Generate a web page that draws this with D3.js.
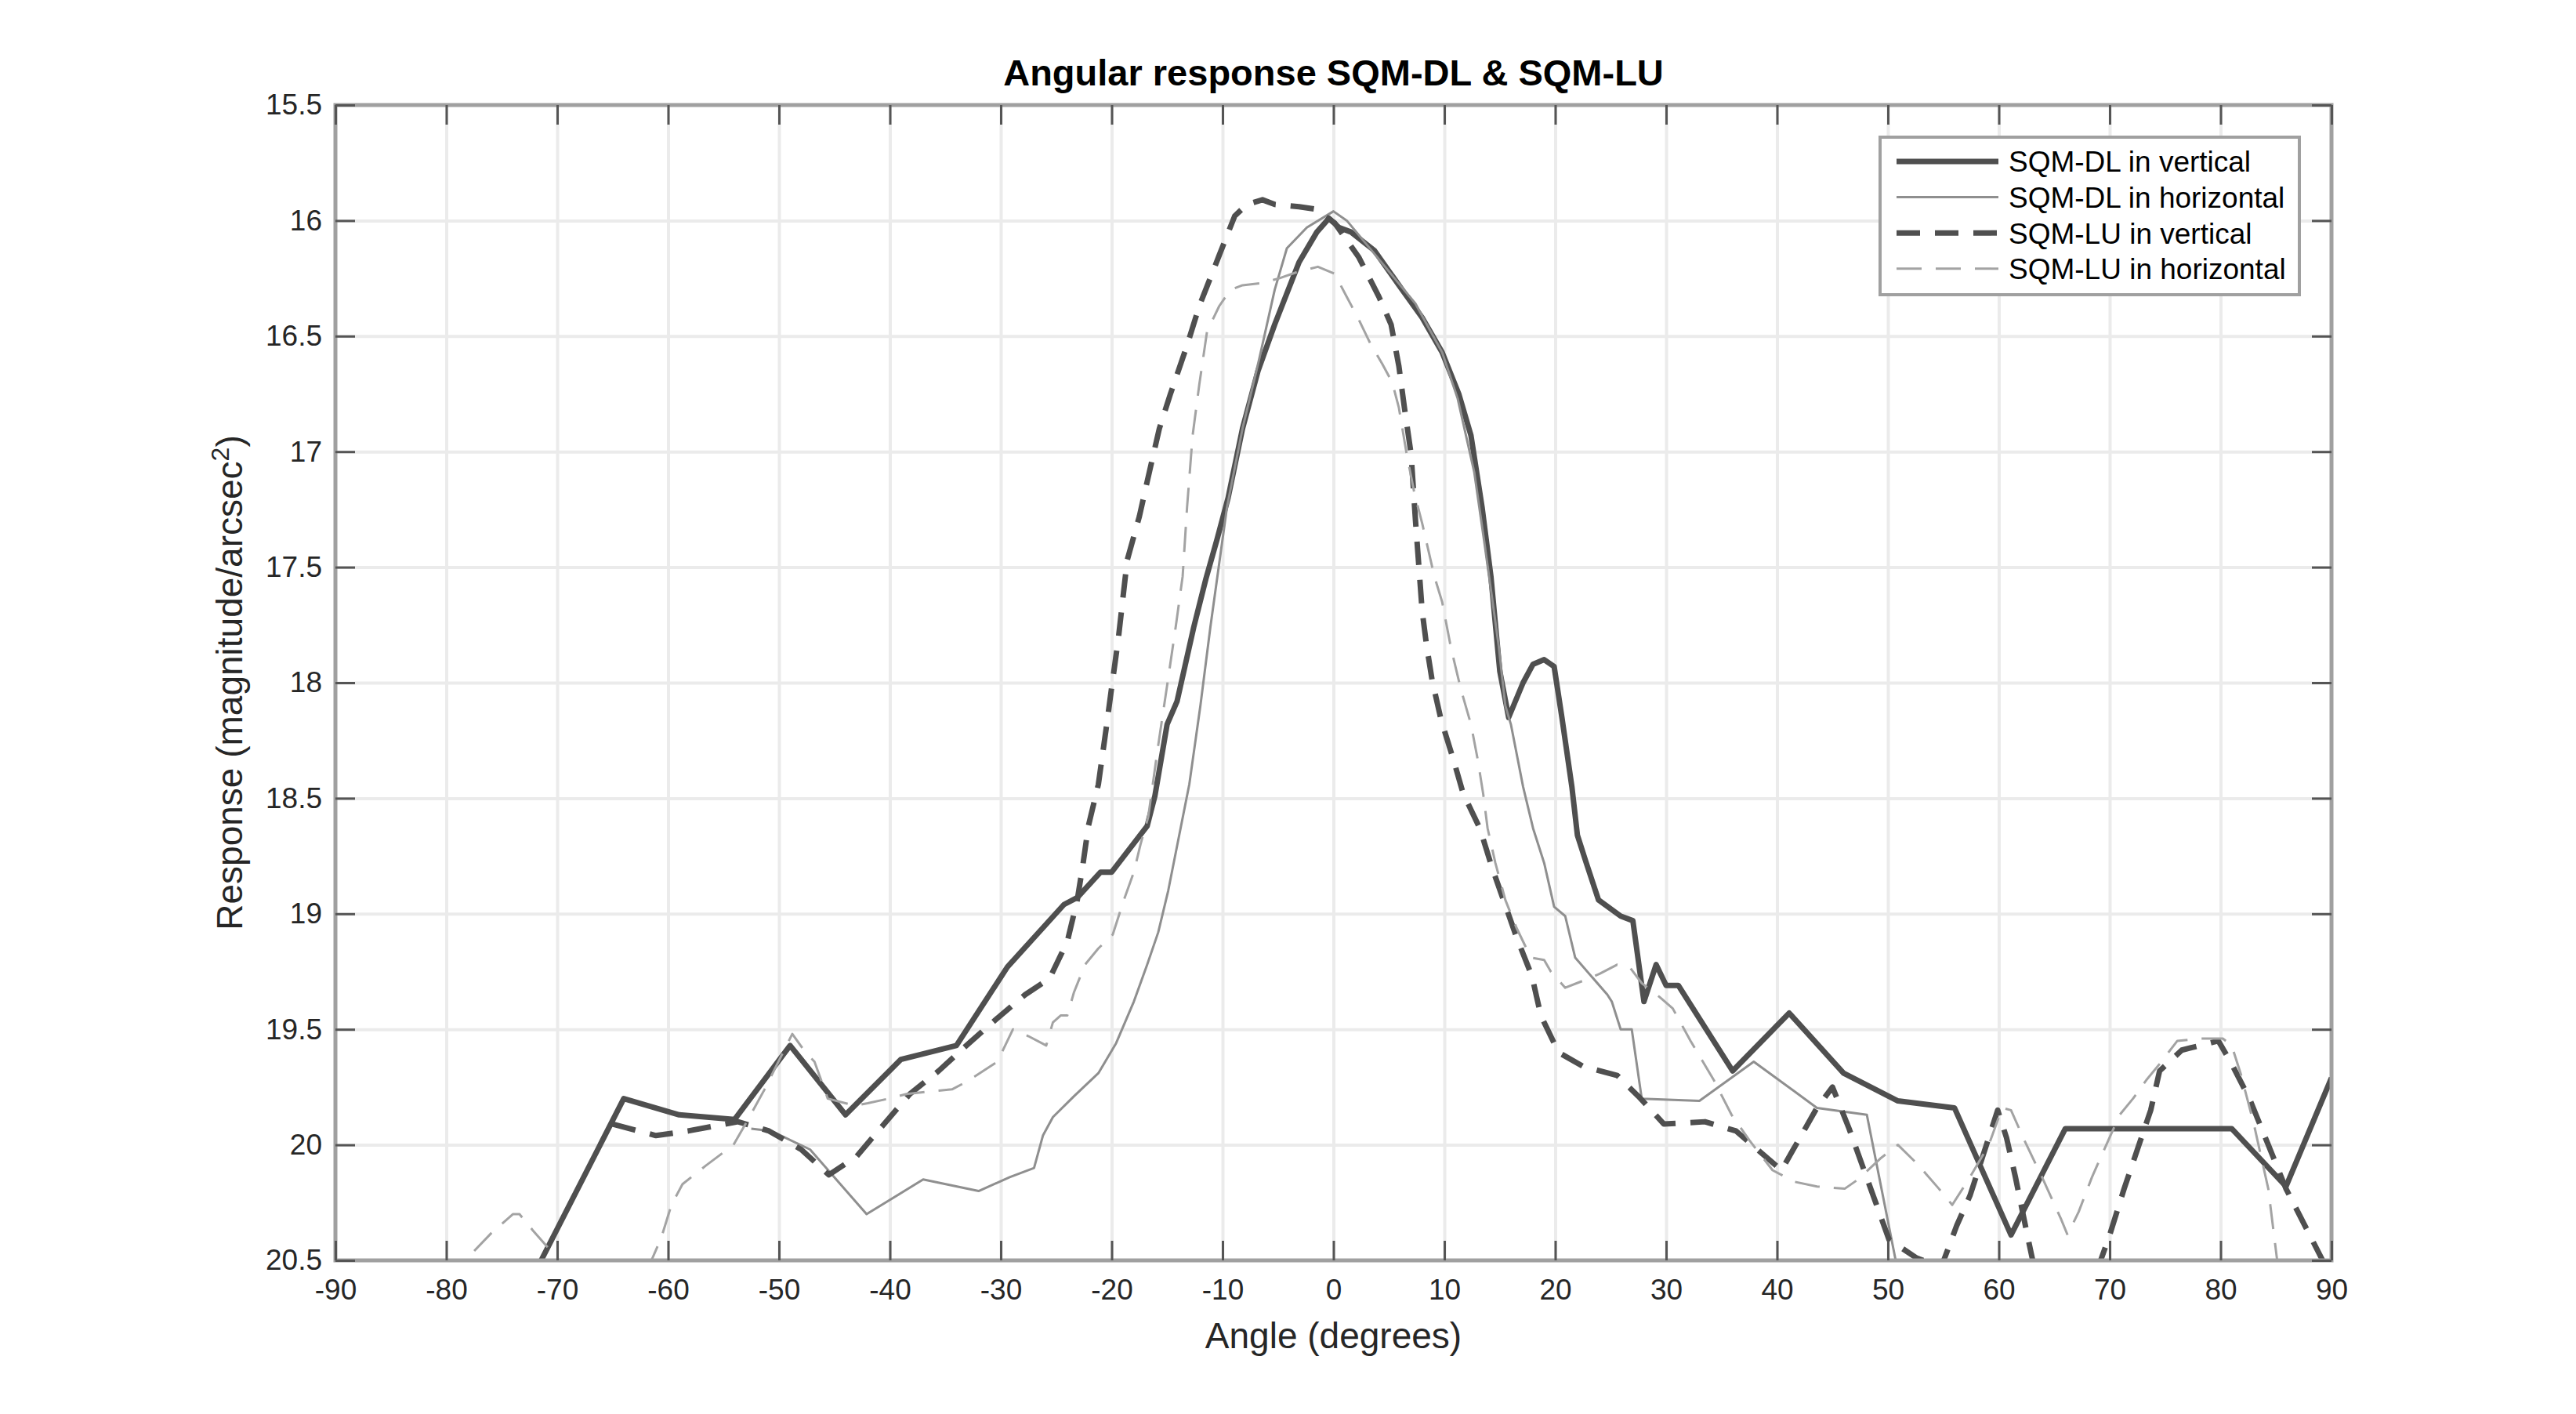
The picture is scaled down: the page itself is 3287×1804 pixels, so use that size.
<!DOCTYPE html>
<html>
<head>
<meta charset="utf-8">
<script src="https://cdn.jsdelivr.net/npm/d3@7"></script>
<style>
  body { margin: 0; background: #fff; }
  text { font-family: "Liberation Sans", Arial, Helvetica, sans-serif; }
</style>
</head>
<body>
<script>
// Valores: [angulo (grados), respuesta (mag/arcsec^2)]
const dlVertical = [[-74,20.74],[-64,19.8],[-59,19.87],[-54,19.89],[-49,19.57],[-44,19.87],[-39,19.63],[-34,19.57],[-29.4,19.23],[-24.3,18.96],[-23.1,18.93],[-21,18.82],[-20,18.82],[-16.8,18.62],[-16.1,18.49],[-15,18.18],[-14.1,18.08],[-12.6,17.76],[-11.5,17.55],[-10.5,17.38],[-9.5,17.2],[-8.2,16.9],[-6.8,16.65],[-5.3,16.45],[-3.1,16.18],[-1.5,16.05],[-0.4,15.99],[0.5,16.03],[1.6,16.05],[3.7,16.13],[6.2,16.3],[8,16.42],[9.8,16.57],[11.3,16.75],[12.4,16.93],[13.4,17.24],[14.2,17.54],[15,17.95],[15.8,18.15],[17.1,18.0],[18,17.92],[19,17.9],[19.9,17.93],[20.6,18.15],[21.5,18.45],[22,18.66],[22.8,18.78],[23.9,18.94],[25.9,19.01],[27,19.03],[28,19.38],[29.1,19.22],[30,19.31],[31.1,19.31],[36,19.68],[41.1,19.43],[46,19.69],[50.9,19.81],[56,19.84],[61.1,20.39],[66,19.93],[81,19.93],[85.9,20.18],[90,19.71]];

const dlHorizontal = [[-52.5,19.93],[-50.7,19.94],[-47.2,20.02],[-42.1,20.3],[-37,20.15],[-32,20.2],[-29.2,20.14],[-27,20.1],[-26.2,19.96],[-25.3,19.88],[-23.4,19.79],[-21.2,19.69],[-19.6,19.56],[-18,19.38],[-16.8,19.22],[-15.8,19.08],[-14.9,18.9],[-13,18.44],[-12,18.1],[-11.1,17.76],[-9.6,17.24],[-8.2,16.9],[-6.7,16.6],[-5.3,16.3],[-4.2,16.12],[-2.4,16.03],[0,15.96],[1.2,16.0],[3.8,16.15],[7.4,16.36],[9.8,16.57],[11.2,16.77],[12.7,17.09],[13.6,17.39],[14.9,17.84],[15.5,18.1],[16,18.18],[17.1,18.45],[18,18.63],[19,18.78],[19.9,18.97],[20.9,19.01],[21.8,19.19],[24.7,19.35],[25.1,19.38],[25.9,19.5],[26.9,19.5],[27.8,19.8],[33,19.81],[37.9,19.64],[43.6,19.84],[48.1,19.87],[50.7,20.5],[51.2,20.62]];

const luVertical = [[-65,19.91],[-61.1,19.96],[-58.2,19.94],[-53.7,19.9],[-50.9,19.94],[-48,20.02],[-45.5,20.13],[-43,20.05],[-40.7,19.92],[-38.2,19.78],[-35.6,19.68],[-33.1,19.57],[-30.5,19.46],[-27.8,19.35],[-25.6,19.28],[-24,19.12],[-23.1,18.94],[-22.6,18.79],[-22.1,18.62],[-21.2,18.44],[-20.5,18.2],[-20,18.02],[-19.4,17.81],[-18.6,17.47],[-17.5,17.28],[-16.8,17.13],[-15.7,16.9],[-14.7,16.75],[-13.2,16.54],[-12.1,16.37],[-10.3,16.15],[-8.9,15.98],[-7.8,15.93],[-6.4,15.91],[-5.3,15.93],[-3.1,15.94],[-1.7,15.95],[0.1,16.01],[2.3,16.16],[4.1,16.33],[5.2,16.45],[5.9,16.63],[6.4,16.81],[7,17.01],[7.4,17.3],[8,17.69],[8.4,17.84],[8.9,17.99],[9.7,18.16],[10.8,18.33],[11.7,18.48],[13.2,18.63],[14.3,18.8],[15.4,18.95],[16.5,19.1],[17.9,19.27],[18.7,19.44],[20.3,19.6],[22.5,19.66],[25.6,19.7],[27.5,19.79],[29.8,19.91],[33.5,19.9],[36.3,19.94],[40.4,20.11],[43.6,19.84],[45,19.75],[46.5,19.93],[48.9,20.25],[50.1,20.41],[52.6,20.49],[54.8,20.53],[56.2,20.35],[57.4,20.22],[59.9,19.85],[60.7,19.97],[61.5,20.14],[62.7,20.42],[63.5,20.6],[68.3,20.62],[70,20.39],[71.3,20.19],[72.5,20.02],[73.7,19.85],[74.5,19.68],[76.5,19.59],[79.8,19.55],[81,19.65],[82.6,19.8],[84.3,20],[85.9,20.19],[87.5,20.34],[89.2,20.5],[90,20.58]];

const luHorizontal = [[-82,20.72],[-78.3,20.5],[-75.9,20.38],[-74,20.3],[-73.4,20.3],[-72.2,20.37],[-70,20.49],[-67.5,20.62],[-63.5,20.65],[-61.5,20.5],[-60.6,20.4],[-59.7,20.26],[-58.7,20.17],[-56.6,20.09],[-54.1,20],[-52.9,19.9],[-51.3,19.76],[-48.8,19.52],[-47.6,19.6],[-46.8,19.64],[-45.6,19.8],[-43.2,19.83],[-42,19.82],[-40.1,19.8],[-38.5,19.78],[-36.6,19.77],[-34.4,19.76],[-33.2,19.73],[-31.9,19.69],[-30.3,19.64],[-29.4,19.55],[-28.9,19.5],[-27.5,19.53],[-25.9,19.57],[-25.3,19.47],[-24.6,19.44],[-24,19.44],[-23.4,19.34],[-22.4,19.22],[-21.2,19.15],[-19.9,19.09],[-18.9,18.94],[-18,18.82],[-17.4,18.7],[-16.7,18.58],[-15.8,18.27],[-14.9,17.98],[-14.2,17.75],[-13.6,17.54],[-13.2,17.24],[-12.7,16.93],[-12.1,16.71],[-11.4,16.48],[-10.3,16.37],[-9.3,16.3],[-8.2,16.28],[-6.4,16.27],[-4.9,16.25],[-3.1,16.22],[-1.4,16.2],[0.1,16.23],[1.2,16.33],[2.3,16.43],[3.3,16.53],[4.4,16.62],[5.3,16.7],[5.9,16.81],[6.6,17.01],[7.3,17.18],[8,17.31],[9.1,17.54],[9.8,17.65],[10.6,17.85],[11.5,18.03],[12.4,18.18],[13,18.33],[13.5,18.48],[13.9,18.63],[14.6,18.78],[15.5,18.94],[16.5,19.06],[17.8,19.19],[19,19.2],[19.6,19.25],[20.9,19.32],[22.5,19.29],[24,19.26],[25.6,19.22],[26.7,19.23],[27.8,19.3],[29.4,19.36],[30.6,19.41],[32.2,19.55],[34.3,19.72],[35.9,19.87],[37.5,19.98],[39.6,20.11],[41.6,20.16],[43.6,20.18],[46.1,20.19],[47.3,20.15],[49.3,20.06],[50.9,20.0],[52.6,20.08],[54.6,20.19],[55.8,20.26],[57.4,20.14],[59.1,20.0],[60.3,19.84],[61.1,19.85],[62.3,19.98],[63.9,20.14],[65.6,20.32],[66.2,20.39],[67.2,20.29],[68.4,20.14],[69.6,20.01],[70.9,19.87],[72.1,19.8],[73.3,19.72],[74.5,19.65],[76.1,19.55],[78.2,19.54],[80.2,19.54],[81,19.57],[81.8,19.69],[83,19.91],[84.3,20.19],[85.1,20.5],[86,20.75]];

const xTicks = [-90,-80,-70,-60,-50,-40,-30,-20,-10,0,10,20,30,40,50,60,70,80,90];
const yTicks = [15.5,16,16.5,17,17.5,18,18.5,19,19.5,20,20.5];
const seriesNames = ["SQM-DL in vertical", "SQM-DL in horizontal", "SQM-LU in vertical", "SQM-LU in horizontal"];

// Constantes de la figura
const WIDTH = 3287;
const HEIGHT = 1804;
const MARGIN = { top: 134, left: 428, right: 312, bottom: 196 };
const WIDTHVIS = WIDTH - MARGIN.left - MARGIN.right;
const HEIGHTVIS = HEIGHT - MARGIN.top - MARGIN.bottom;

// Estilo de cada serie (mismo orden que seriesNames)
const estilos = [
  { datos: dlVertical, color: "#4f4f4f", ancho: 7, dash: null },
  { datos: dlHorizontal, color: "#8f8f8f", ancho: 3, dash: null },
  { datos: luVertical, color: "#4f4f4f", ancho: 7, dash: "30,19" },
  { datos: luHorizontal, color: "#a3a3a3", ancho: 3, dash: "32,18" },
];

const svg = d3.select("body")
  .append("svg")
  .attr("width", WIDTH)
  .attr("height", HEIGHT);

svg.append("rect").attr("width", WIDTH).attr("height", HEIGHT).attr("fill", "#fff");

svg.append("clipPath")
  .attr("id", "clip")
  .append("rect")
  .attr("width", WIDTHVIS)
  .attr("height", HEIGHTVIS);

const escalaX = d3.scaleLinear().domain([-90, 90]).range([0, WIDTHVIS]);
const escalaY = d3.scaleLinear().domain([15.5, 20.5]).range([0, HEIGHTVIS]);

const contenedor = svg.append("g")
  .attr("transform", `translate(${MARGIN.left}, ${MARGIN.top})`);

// Grilla
const grilla = contenedor.append("g").attr("class", "grilla");
grilla.append("g")
  .call(d3.axisBottom(escalaX).tickValues(xTicks.slice(1, -1)).tickSize(HEIGHTVIS).tickFormat(""))
  .call(g => g.select(".domain").remove());
grilla.append("g")
  .call(d3.axisRight(escalaY).tickValues(yTicks.slice(1, -1)).tickSize(WIDTHVIS).tickFormat(""))
  .call(g => g.select(".domain").remove());
grilla.selectAll("line").attr("stroke", "#ebebeb").attr("stroke-width", 4);

// Lineas de datos
const linea = d3.line()
  .x(d => escalaX(d[0]))
  .y(d => escalaY(d[1]));

const contenedorVis = contenedor.append("g").attr("clip-path", "url(#clip)");
contenedorVis.selectAll("path")
  .data(estilos)
  .join("path")
  .attr("d", d => linea(d.datos))
  .attr("fill", "none")
  .attr("stroke", d => d.color)
  .attr("stroke-width", d => d.ancho)
  .attr("stroke-dasharray", d => d.dash)
  .attr("stroke-linejoin", "round");

// Marco de los ejes
contenedor.append("rect")
  .attr("width", WIDTHVIS)
  .attr("height", HEIGHTVIS)
  .attr("fill", "none")
  .attr("stroke", "#a0a0a0")
  .attr("stroke-width", 5);

// Ejes con marcas hacia adentro en los cuatro lados (guion simple como signo menos)
const formato = d => String(d);
const ejeX = d3.axisBottom(escalaX).tickValues(xTicks).tickSizeInner(-25).tickSizeOuter(0).tickPadding(24)
  .tickFormat(formato);
const ejeY = d3.axisLeft(escalaY).tickValues(yTicks).tickSizeInner(-25).tickSizeOuter(0).tickPadding(17)
  .tickFormat(formato);

const contenedorEjeX = contenedor.append("g")
  .attr("transform", `translate(0, ${HEIGHTVIS})`)
  .call(ejeX);
const contenedorEjeY = contenedor.append("g").call(ejeY);
const ejeArriba = contenedor.append("g")
  .call(d3.axisTop(escalaX).tickValues(xTicks).tickSizeInner(-25).tickSizeOuter(0).tickFormat(""));
const ejeDerecha = contenedor.append("g")
  .attr("transform", `translate(${WIDTHVIS}, 0)`)
  .call(d3.axisRight(escalaY).tickValues(yTicks).tickSizeInner(-25).tickSizeOuter(0).tickFormat(""));

[contenedorEjeX, contenedorEjeY, ejeArriba, ejeDerecha].forEach(g => {
  g.select(".domain").remove();
  g.selectAll(".tick line").attr("stroke", "#555").attr("stroke-width", 3);
  g.selectAll(".tick text")
    .attr("font-family", "'Liberation Sans', Arial, sans-serif")
    .attr("font-size", 37)
    .attr("fill", "#262626");
});

// Titulo y etiquetas
svg.append("text")
  .attr("x", MARGIN.left + WIDTHVIS / 2)
  .attr("y", 109)
  .attr("text-anchor", "middle")
  .attr("font-size", 47)
  .attr("font-weight", "bold")
  .attr("fill", "#000")
  .text("Angular response SQM-DL & SQM-LU");

svg.append("text")
  .attr("x", MARGIN.left + WIDTHVIS / 2)
  .attr("y", 1720)
  .attr("text-anchor", "middle")
  .attr("font-size", 46)
  .attr("fill", "#262626")
  .text("Angle (degrees)");

const etiquetaY = svg.append("text")
  .attr("transform", `translate(309, ${MARGIN.top + HEIGHTVIS / 2}) rotate(-90)`)
  .attr("text-anchor", "middle")
  .attr("font-size", 46)
  .attr("fill", "#262626");
etiquetaY.append("tspan").text("Response (magnitude/arcsec");
etiquetaY.append("tspan").attr("dy", -17).attr("font-size", 32).text("2");
etiquetaY.append("tspan").attr("dy", 17).text(")");

// Leyenda
const leyenda = svg.append("g").attr("transform", "translate(2399, 175)");
leyenda.append("rect")
  .attr("width", 535)
  .attr("height", 201)
  .attr("fill", "#fff")
  .attr("stroke", "#a0a0a0")
  .attr("stroke-width", 4);

const filas = leyenda.selectAll("g.fila")
  .data(estilos)
  .join("g")
  .attr("class", "fila")
  .attr("transform", (d, i) => `translate(0, ${31 + i * 45.6})`);

filas.append("line")
  .attr("x1", 21)
  .attr("x2", 151)
  .attr("stroke", d => d.color)
  .attr("stroke-width", d => d.ancho)
  .attr("stroke-dasharray", d => d.dash);

filas.append("text")
  .attr("x", 164)
  .attr("dy", "0.36em")
  .attr("font-size", 37)
  .attr("fill", "#000")
  .text((d, i) => seriesNames[i]);
</script>
</body>
</html>
